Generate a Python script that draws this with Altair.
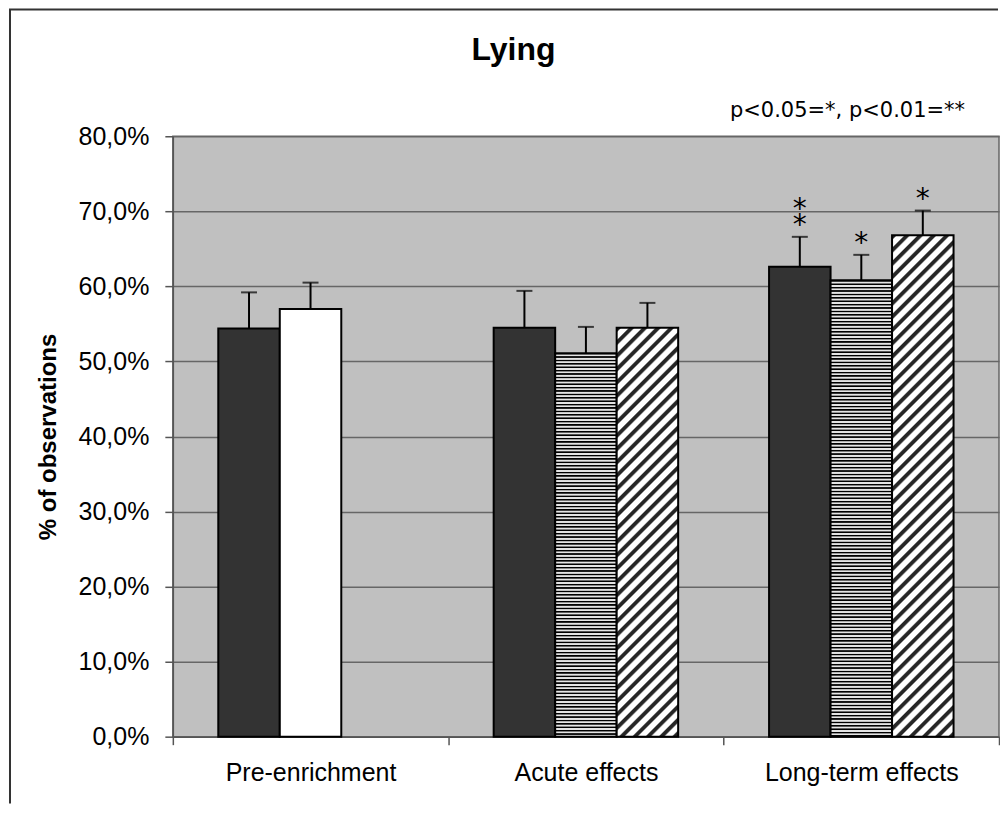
import altair as alt
import pandas as pd

# ---------------- data ----------------
groups = ["Pre-enrichment", "Acute effects", "Long-term effects"]
bar_group = ["Pre-enrichment", "Pre-enrichment",
             "Acute effects", "Acute effects", "Acute effects",
             "Long-term effects", "Long-term effects", "Long-term effects"]
bar_slot = [0, 1, 0, 1, 2, 0, 1, 2]
bar_pattern = ["dark", "white", "dark", "hstripe", "diag", "dark", "hstripe", "diag"]
means = [0.544, 0.570, 0.545, 0.511, 0.545, 0.626, 0.608, 0.668]
errors = [0.048, 0.035, 0.049, 0.035, 0.033, 0.040, 0.034, 0.033]
stars = ["", "", "", "", "", "**", "*", "*"]
y_ticks = [0.0, 0.1, 0.2, 0.3, 0.4, 0.5, 0.6, 0.7, 0.8]
title_text = "Lying"
y_title = "% of observations"
note_text = "p<0.05=*, p<0.01=**"

# ---------------- layout / style constants ----------------
PLOT_W, PLOT_H, YMAX = 827, 601, 0.8
OFFSET_PAD = 0.739           # outer padding of the 3 bar slots inside each category
BAR_W = PLOT_W / 3 / (3 + 2 * OFFSET_PAD)
FONT = "Liberation Sans"

df = pd.DataFrame({
    "group": bar_group, "slot": bar_slot, "pattern": bar_pattern,
    "mean": means, "err": errors, "star": stars,
})
df["top"] = df["mean"] + df["err"]
df["idx"] = list(range(len(df)))

star_rows = []
for g, s, t, st in zip(bar_group, bar_slot, df["top"], stars):
    for lvl, _ in enumerate(st):
        star_rows.append({"group": g, "slot": s, "top": t, "star": "*", "level": lvl})
star_df = pd.DataFrame(star_rows)


def stripe_stops(total_px, period, segs):
    stops = []
    k = 0
    while k * period <= total_px + period:
        for f, c in segs:
            off = (k * period + f * period) / total_px
            if off <= 1.0:
                stops.append({"offset": round(off, 6), "color": c})
        k += 1
    return stops


H_SEGS = [(0.0, "#000000"), (0.25, "#000000"), (0.5, "#e4e4e4"), (0.85, "#e4e4e4")]
D_SEGS = [(0.0, "#262626"), (0.28, "#262626"), (0.42, "#ffffff"), (0.88, "#ffffff")]


def fill_for(pattern, value):
    h = value / YMAX * PLOT_H
    w = BAR_W
    if pattern == "dark":
        return "#333333"
    if pattern == "white":
        return "#ffffff"
    if pattern == "hstripe":
        return {"gradient": "linear", "x1": 0, "y1": 0, "x2": 0, "y2": 1,
                "stops": stripe_stops(h, 3.4, H_SEGS)}
    L = w + h
    k = L / (w * w + h * h)
    return {"gradient": "linear", "x1": 0, "y1": 0, "x2": w * k, "y2": h * k,
            "stops": stripe_stops(L, 13.3, D_SEGS)}


x_enc = alt.X("group:N", sort=groups,
              scale=alt.Scale(domain=groups, paddingInner=0, paddingOuter=0),
              axis=alt.Axis(title=None, labelAngle=0, labelFont=FONT, labelFontSize=25,
                            labelColor="black", labelPadding=16, labelLimit=0,
                            tickSize=8, tickBand="extent",
                            tickColor="#555555", tickWidth=1.5, domainColor="#555555",
                            domainWidth=1.5, grid=False))
xo_enc = alt.XOffset("slot:O", scale=alt.Scale(domain=[0, 1, 2], paddingInner=0,
                                               paddingOuter=OFFSET_PAD))
y_enc = alt.Y("mean:Q", scale=alt.Scale(domain=[0, YMAX], nice=False, zero=True),
              axis=alt.Axis(values=y_ticks, title=y_title,
                            labelExpr="replace(format(datum.value, '.1%'), '.', ',')",
                            labelFont=FONT, labelFontSize=25, labelColor="black",
                            labelPadding=16, tickSize=8, tickColor="#555555", tickWidth=1.5,
                            domainColor="#555555", domainWidth=1.5,
                            grid=True, gridColor="#666666", gridWidth=1.5,
                            titleFont=FONT, titleFontSize=24, titleFontWeight="bold",
                            titleColor="black", titlePadding=18))

layers = []
for i, (pat, val) in enumerate(zip(bar_pattern, means)):
    layers.append(
        alt.Chart(df).transform_filter(alt.datum.idx == i)
        .mark_bar(fill=fill_for(pat, val), stroke="black", strokeWidth=2)
        .encode(x=x_enc, xOffset=xo_enc, y=y_enc)
    )

err_rule = alt.Chart(df).mark_rule(color="black", strokeWidth=2).encode(
    x=x_enc, xOffset=xo_enc, y=alt.Y("mean:Q"), y2="top:Q")
err_cap = alt.Chart(df).mark_tick(color="black", size=16, thickness=2).encode(
    x=x_enc, xOffset=xo_enc, y=alt.Y("top:Q"))

star0 = alt.Chart(star_df).transform_filter(alt.datum.level == 0).mark_text(
    font="DejaVu Sans", fontSize=28, baseline="alphabetic", dy=-3, color="black").encode(
    x=x_enc, xOffset=xo_enc, y=alt.Y("top:Q"), text="star:N")
star1 = alt.Chart(star_df).transform_filter(alt.datum.level == 1).mark_text(
    font="DejaVu Sans", fontSize=28, baseline="alphabetic", dy=-19, color="black").encode(
    x=x_enc, xOffset=xo_enc, y=alt.Y("top:Q"), text="star:N")

dummy = pd.DataFrame({"a": [0]})
border_left = alt.Chart(dummy).mark_rule(color="#333333", strokeWidth=2).encode(
    x=alt.value(-163), y=alt.value(-127), y2=alt.value(668))
border_top = alt.Chart(dummy).mark_rule(color="#333333", strokeWidth=2).encode(
    x=alt.value(-164), x2=alt.value(826), y=alt.value(-127))
note = alt.Chart(pd.DataFrame({"t": [note_text]})).mark_text(
    font="DejaVu Sans", fontSize=21, align="right", baseline="alphabetic", color="black").encode(
    x=alt.value(793), y=alt.value(-19), text="t:N")

chart = alt.layer(*layers, err_rule, err_cap, star0, star1, border_left, border_top, note).properties(
    width=PLOT_W, height=PLOT_H, padding=0,
    title=alt.TitleParams(text=title_text, font=FONT, fontSize=32, fontWeight="bold",
                          color="black", anchor="middle", frame="group", dx=-72.5,
                          offset=-84, baseline="alphabetic"),
).configure(
    background="white",
    view=alt.ViewConfig(fill="#C0C0C0", stroke="#666666", strokeWidth=1.5),
)

chart.save("out.html", embed_options={"renderer": "svg", "actions": False})
